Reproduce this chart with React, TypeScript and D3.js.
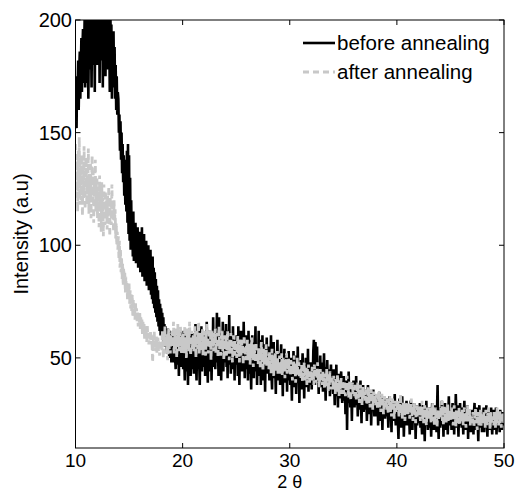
import React from "react";
import * as d3 from "d3";

const X_MIN = 10;
const X_MAX = 50;
const Y_MIN = 10;
const Y_MAX = 200;
const X_TICKS = [10, 20, 30, 40, 50];
const Y_TICKS = [50, 100, 150, 200];
const SERIES_NAMES = ["before annealing", "after annealing"];
const X_LABEL = "2 θ";
const Y_LABEL = "Intensity (a.u)";

// Intensity sampled every 0.05 deg from 10 to 50 (one line per degree)
const BEFORE = [
  155, 168, 152, 175, 170, 182, 160, 178, 186, 165, 180, 192, 168, 188, 196, 172, 185, 200, 170, 190,
  198, 172, 205, 188, 165, 195, 210, 178, 200, 192, 170, 208, 195, 215, 180, 200, 168, 205, 192, 210,
  180, 205, 195, 220, 200, 172, 210, 196, 215, 182, 205, 170, 200, 212, 185, 218, 175, 205, 198, 210,
  200, 178, 210, 192, 168, 205, 188, 198, 165, 190, 178, 195, 170, 188, 165, 180, 160, 175, 158, 168,
  165, 150, 158, 142, 155, 138, 150, 132, 145, 128, 140, 122, 138, 118, 135, 115, 142, 110, 145, 105,
  140, 102, 130, 98, 120, 100, 112, 95, 115, 93, 108, 96, 110, 92, 105, 98, 108, 90, 106, 94,
  106, 88, 104, 90, 108, 86, 100, 92, 105, 84, 98, 88, 102, 82, 95, 86, 100, 80, 94, 84,
  98, 78, 92, 76, 95, 74, 90, 72, 88, 70, 85, 68, 82, 66, 80, 64, 76, 62, 74, 60,
  72, 60, 70, 58, 68, 56, 65, 55, 64, 58, 62, 52, 63, 55, 60, 50, 62, 54, 58, 48,
  60, 52, 58, 48, 56, 62, 50, 45, 57, 53, 60, 47, 55, 42, 58, 50, 62, 46, 54, 50,
  58, 45, 62, 50, 40, 56, 48, 60, 44, 52, 38, 55, 47, 63, 50, 42, 57, 49, 61, 45,
  55, 43, 60, 50, 65, 47, 40, 58, 52, 45, 62, 48, 38, 56, 50, 64, 44, 53, 59, 46,
  52, 60, 42, 55, 48, 66, 50, 39, 57, 47, 62, 53, 44, 58, 40, 55, 49, 68, 46, 54,
  58, 45, 63, 50, 70, 48, 55, 42, 68, 52, 47, 60, 40, 57, 50, 66, 44, 55, 62, 48,
  54, 65, 46, 58, 41, 62, 50, 69, 47, 55, 43, 60, 52, 45, 64, 49, 56, 40, 58, 51,
  47, 60, 53, 42, 64, 50, 38, 57, 46, 62, 51, 44, 58, 48, 66, 52, 41, 55, 49, 60,
  45, 56, 40, 62, 50, 43, 58, 47, 36, 54, 60, 46, 52, 41, 57, 49, 64, 44, 53, 38,
  55, 47, 62, 42, 50, 58, 38, 53, 45, 60, 48, 40, 56, 51, 35, 54, 46, 59, 43, 50,
  44, 55, 40, 52, 47, 60, 42, 36, 53, 48, 57, 41, 50, 45, 34, 52, 46, 58, 40, 49,
  43, 52, 38, 49, 56, 41, 47, 33, 50, 44, 54, 39, 46, 42, 51, 35, 48, 44, 53, 40,
  46, 38, 50, 42, 31, 48, 44, 53, 37, 45, 40, 51, 34, 47, 42, 55, 39, 44, 30, 46,
  41, 49, 36, 45, 52, 39, 43, 32, 47, 42, 50, 37, 44, 40, 54, 35, 46, 41, 48, 38,
  44, 36, 48, 41, 53, 58, 45, 38, 57, 50, 43, 55, 40, 46, 34, 48, 42, 51, 37, 44,
  41, 48, 35, 44, 52, 39, 42, 31, 46, 40, 49, 36, 43, 38, 45, 33, 41, 47, 37, 42,
  40, 34, 45, 37, 29, 42, 38, 47, 33, 39, 28, 43, 36, 41, 32, 38, 44, 35, 30, 39,
  36, 42, 31, 38, 25, 35, 40, 18, 37, 33, 44, 30, 36, 28, 39, 34, 22, 37, 32, 40,
  34, 28, 38, 31, 42, 29, 35, 24, 33, 37, 27, 32, 40, 30, 21, 35, 31, 38, 26, 33,
  31, 36, 27, 33, 22, 30, 38, 28, 34, 25, 31, 35, 20, 29, 33, 27, 36, 30, 24, 32,
  29, 24, 34, 27, 31, 20, 28, 35, 26, 30, 22, 33, 27, 18, 29, 32, 25, 30, 23, 28,
  27, 32, 24, 29, 19, 27, 33, 23, 28, 25, 17, 30, 26, 31, 22, 27, 34, 24, 20, 28,
  25, 30, 21, 14, 27, 32, 23, 28, 19, 26, 33, 22, 27, 15, 24, 29, 20, 26, 31, 23,
  26, 20, 29, 24, 16, 27, 31, 22, 25, 18, 28, 23, 30, 21, 26, 14, 24, 29, 20, 25,
  27, 21, 24, 30, 19, 25, 22, 16, 26, 29, 21, 24, 13, 27, 23, 31, 20, 25, 18, 24,
  22, 28, 19, 25, 15, 24, 30, 21, 26, 18, 23, 29, 20, 25, 17, 27, 38, 22, 14, 26,
  24, 19, 28, 22, 31, 20, 25, 15, 27, 23, 30, 18, 24, 21, 28, 16, 25, 33, 20, 26,
  22, 27, 18, 25, 30, 21, 24, 16, 28, 23, 34, 26, 19, 29, 24, 15, 26, 22, 30, 20,
  25, 19, 28, 23, 16, 26, 31, 21, 24, 18, 27, 22, 29, 14, 25, 20, 27, 23, 17, 26,
  21, 27, 24, 16, 26, 30, 20, 25, 18, 23, 28, 21, 13, 25, 29, 22, 19, 26, 24, 17,
  25, 20, 28, 17, 23, 26, 19, 29, 22, 15, 24, 27, 20, 25, 18, 23, 28, 21, 16, 24,
  22, 27, 18, 24, 20, 28, 16, 23, 26, 19, 25, 21, 17, 27, 22, 24, 18, 26, 20, 23,
  21,
];

const AFTER = [
  145, 122, 138, 128, 115, 142, 126, 148, 118, 134, 120, 140, 124, 113, 136, 121, 144, 127, 116, 135,
  139, 118, 131, 124, 143, 114, 130, 122, 137, 112, 128, 140, 120, 133, 110, 129, 123, 138, 115, 127,
  130, 112, 126, 119, 108, 131, 117, 125, 106, 128, 114, 121, 104, 127, 118, 109, 124, 112, 120, 107,
  122, 110, 126, 114, 104, 121, 115, 109, 127, 112, 118, 106, 120, 111, 116, 103, 110, 100, 106, 98,
  104, 94, 102, 90, 98, 88, 95, 85, 92, 82, 90, 84, 88, 79, 86, 80, 84, 76, 82, 78,
  83, 74, 80, 72, 79, 70, 78, 68, 76, 71, 74, 67, 75, 68, 72, 66, 71, 64, 70, 65,
  70, 62, 68, 63, 67, 60, 66, 61, 65, 58, 64, 60, 63, 57, 65, 59, 62, 56, 61, 58,
  62, 56, 60, 55, 48, 58, 56, 62, 54, 57, 53, 60, 52, 57, 59, 53, 58, 51, 57, 55,
  58, 53, 62, 55, 50, 60, 56, 64, 52, 58, 55, 61, 49, 57, 63, 54, 59, 52, 60, 56,
  62, 55, 59, 66, 52, 57, 63, 54, 60, 50, 58, 65, 55, 61, 53, 59, 64, 56, 52, 60,
  55, 61, 52, 58, 64, 54, 59, 50, 57, 63, 55, 60, 53, 66, 56, 51, 59, 62, 54, 58,
  60, 53, 57, 64, 55, 50, 59, 62, 54, 58, 66, 52, 57, 61, 53, 59, 55, 63, 51, 57,
  62, 54, 58, 51, 60, 65, 55, 59, 52, 57, 63, 54, 60, 49, 58, 62, 55, 59, 53, 61,
  57, 63, 52, 58, 55, 61, 50, 59, 64, 54, 57, 51, 60, 56, 62, 53, 58, 49, 57, 60,
  54, 59, 51, 57, 62, 53, 56, 49, 58, 55, 61, 52, 57, 48, 56, 60, 53, 58, 51, 55,
  57, 50, 55, 60, 52, 56, 48, 58, 54, 51, 59, 53, 56, 47, 55, 60, 52, 54, 49, 56,
  53, 58, 49, 54, 51, 57, 47, 55, 52, 59, 50, 53, 46, 56, 51, 54, 48, 57, 50, 52,
  51, 47, 55, 49, 53, 45, 52, 57, 48, 51, 44, 54, 50, 47, 53, 49, 56, 46, 51, 48,
  50, 45, 53, 47, 51, 43, 49, 54, 46, 48, 42, 51, 47, 52, 44, 49, 46, 53, 43, 48,
  46, 51, 43, 48, 45, 52, 42, 47, 50, 44, 48, 41, 49, 46, 52, 43, 47, 45, 50, 44,
  47, 42, 49, 44, 46, 40, 48, 45, 51, 43, 46, 39, 47, 44, 50, 42, 45, 48, 41, 44,
  45, 41, 47, 43, 39, 46, 42, 48, 40, 44, 42, 46, 38, 45, 41, 47, 43, 39, 44, 42,
  44, 40, 46, 41, 43, 38, 47, 42, 45, 39, 43, 41, 48, 40, 44, 37, 42, 45, 40, 43,
  41, 38, 44, 39, 42, 36, 43, 40, 37, 45, 39, 41, 35, 42, 38, 44, 40, 36, 41, 39,
  40, 36, 42, 37, 39, 34, 41, 38, 35, 43, 37, 39, 33, 40, 36, 38, 41, 34, 37, 39,
  38, 34, 40, 36, 33, 39, 37, 42, 35, 38, 32, 37, 40, 35, 31, 38, 36, 39, 34, 37,
  36, 33, 38, 34, 31, 37, 35, 39, 32, 36, 30, 35, 38, 33, 36, 29, 34, 37, 32, 35,
  34, 31, 36, 32, 29, 35, 33, 37, 30, 34, 28, 33, 36, 31, 34, 27, 32, 35, 30, 33,
  32, 29, 34, 30, 27, 33, 31, 35, 28, 32, 26, 31, 34, 29, 32, 25, 30, 33, 28, 31,
  30, 27, 32, 28, 25, 31, 29, 33, 26, 30, 24, 29, 32, 27, 30, 23, 28, 31, 26, 29,
  29, 26, 31, 27, 24, 30, 28, 34, 25, 29, 23, 28, 31, 26, 29, 22, 27, 30, 25, 28,
  28, 25, 30, 26, 23, 29, 27, 32, 24, 28, 22, 27, 30, 25, 28, 21, 26, 29, 24, 27,
  27, 24, 29, 25, 22, 28, 26, 31, 23, 27, 21, 26, 29, 24, 27, 20, 25, 28, 23, 26,
  26, 23, 28, 24, 21, 27, 25, 30, 22, 26, 20, 25, 28, 23, 26, 19, 24, 27, 22, 25,
  27, 23, 28, 24, 31, 22, 26, 20, 25, 29, 23, 26, 21, 28, 24, 30, 22, 25, 27, 23,
  25, 22, 28, 23, 26, 20, 24, 29, 22, 25, 19, 27, 24, 21, 26, 23, 28, 20, 24, 22,
  26, 22, 27, 23, 20, 25, 28, 22, 24, 19, 26, 23, 29, 21, 25, 22, 27, 20, 24, 23,
  24, 21, 26, 22, 19, 25, 23, 28, 21, 24, 18, 23, 26, 20, 24, 22, 27, 19, 23, 21,
  25, 21, 26, 22, 24, 19, 27, 23, 20, 25, 22, 28, 21, 24, 18, 23, 26, 21, 24, 22,
  24, 20, 26, 22, 19, 25, 23, 28, 21, 24, 20, 23, 27, 21, 25, 19, 24, 22, 26, 21,
  23,
];

const W = 517;
const H = 492;
const LEFT = 75.5;
const RIGHT = 504;
const TOP = 20;
const BOTTOM = 448;
const FONT = "'Liberation Sans', Arial, Helvetica, sans-serif";

export default function App() {
  const x = d3.scaleLinear().domain([X_MIN, X_MAX]).range([LEFT, RIGHT]);
  const y = d3.scaleLinear().domain([Y_MIN, Y_MAX]).range([BOTTOM, TOP]);

  const toPoints = (vals: number[]) =>
    vals.map((v, i) => [X_MIN + (i * (X_MAX - X_MIN)) / (vals.length - 1), v] as [number, number]);

  const line = d3
    .line<[number, number]>()
    .x((d) => x(d[0]))
    .y((d) => y(d[1]));

  const beforePath = line(toPoints(BEFORE)) || "";
  const afterPath = line(toPoints(AFTER)) || "";
  const tickLen = 5;

  return (
    <svg
      width={W}
      height={H}
      style={{ position: "absolute", left: 0, top: 0, background: "#fff" }}
      fontFamily={FONT}
    >
      <rect x={0} y={0} width={W} height={H} fill="#fff" />
      <defs>
        <clipPath id="plotclip">
          <rect x={LEFT} y={TOP} width={RIGHT - LEFT} height={BOTTOM - TOP} />
        </clipPath>
      </defs>
      <g clipPath="url(#plotclip)">
        <path d={beforePath} fill="none" stroke="#000" strokeWidth={2.6} />
        <path d={afterPath} fill="none" stroke="#c8c8c8" strokeWidth={2.8} strokeDasharray="6,4" />
      </g>
      <rect x={LEFT} y={TOP} width={RIGHT - LEFT} height={BOTTOM - TOP} fill="none" stroke="#000" strokeWidth={1} />
      {X_TICKS.map((t) => (
        <g key={"x" + t}>
          <line x1={x(t)} x2={x(t)} y1={BOTTOM} y2={BOTTOM - tickLen} stroke="#000" />
          <line x1={x(t)} x2={x(t)} y1={TOP} y2={TOP + tickLen} stroke="#000" />
          <text x={x(t)} y={467} textAnchor="middle" fontSize={19} fill="#000">
            {t}
          </text>
        </g>
      ))}
      {Y_TICKS.map((t) => (
        <g key={"y" + t}>
          <line x1={LEFT} x2={LEFT + tickLen} y1={y(t)} y2={y(t)} stroke="#000" />
          <line x1={RIGHT} x2={RIGHT - tickLen} y1={y(t)} y2={y(t)} stroke="#000" />
          <text x={72} y={y(t) + 7} textAnchor="end" fontSize={20} fill="#000">
            {t}
          </text>
        </g>
      ))}
      <text x={(LEFT + RIGHT) / 2} y={488} textAnchor="middle" fontSize={18} fill="#000">
        {X_LABEL}
      </text>
      <text
        transform={`translate(28,${(TOP + BOTTOM) / 2}) rotate(-90)`}
        textAnchor="middle"
        fontSize={20}
        fill="#000"
      >
        {Y_LABEL}
      </text>
      <line x1={303} x2={335} y1={43} y2={43} stroke="#000" strokeWidth={2.6} />
      <text x={337} y={50} fontSize={20.5} fill="#000">
        {SERIES_NAMES[0]}
      </text>
      <line x1={303} x2={335} y1={72} y2={72} stroke="#c8c8c8" strokeWidth={2.8} strokeDasharray="6,4" />
      <text x={337} y={79} fontSize={20.5} fill="#000">
        {SERIES_NAMES[1]}
      </text>
    </svg>
  );
}
